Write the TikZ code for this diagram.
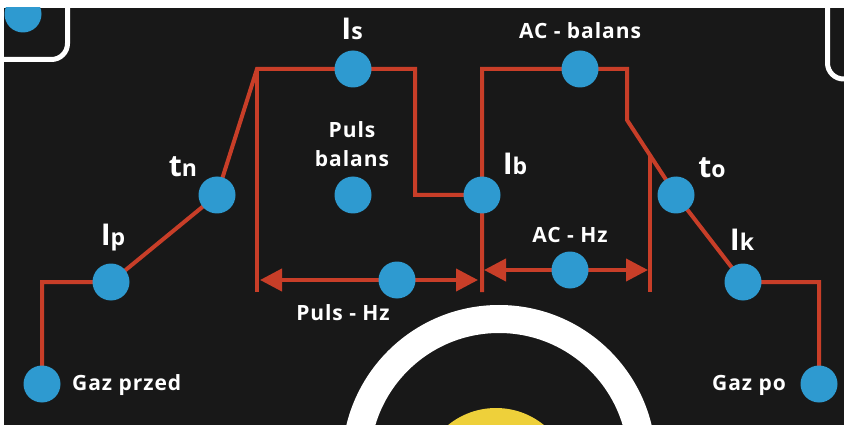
\documentclass[tikz,border=0pt]{standalone}
\usepackage{fontspec}
\setmainfont{Open Sans}[LetterSpace=4.5]
\usetikzlibrary{arrows.meta}
\definecolor{bgdark}{RGB}{24,24,24}
\definecolor{dotblue}{RGB}{46,154,208}
\definecolor{wirered}{RGB}{200,62,40}
\definecolor{sunyellow}{RGB}{238,208,58}
\pgfdeclarelayer{back}
\pgfdeclarelayer{mid}
\pgfsetlayers{back,mid,main}
\newcommand\capfirst[2]{{\fontsize{30}{32}\selectfont #1}{\fontsize{23}{25}\selectfont #2}}
\begin{document}
\begin{tikzpicture}[x=1pt,y=-1pt,
  dot/.style={circle, fill=dotblue, minimum size=37pt, inner sep=0pt},
  wire/.style={draw=wirered, line width=4pt},
  dblarrow/.style={wire, {Triangle[length=22pt,width=22pt]}-{Triangle[length=22pt,width=22pt]}},
  lbl/.style={text=white, font=\bfseries\fontsize{21}{29}\selectfont, inner sep=0pt},
  frame/.style={draw=white, line width=5pt, rounded corners=16pt}]
\useasboundingbox (0,0) rectangle (844,425);
\begin{pgfonlayer}{back}
\fill[white] (0,0) rectangle (844,425);
\fill[bgdark] (4,8) rectangle (844,425);
\begin{scope}
\clip (4,8) rectangle (844,425);
\draw[frame] (4,59.5) -- (67.5,59.5) -- (67.5,-20);
\draw[frame] (827.5,-20) -- (827.5,79) -- (870,79);
\draw[white, line width=28pt] (499,462) circle[radius=143pt];
\fill[sunyellow] (496,484) circle[radius=76pt];
\end{scope}
\end{pgfonlayer}
% dots
\begin{scope}
\clip (4,8) rectangle (844,425);
\node[dot] (tl) at (23,14) {};
\end{scope}
\node[dot] (gp) at (42,384) {};
\node[dot] (ip) at (111,282) {};
\node[dot] (tn) at (217,195) {};
\node[dot] (is) at (353,69) {};
\node[dot] (pb) at (353,195) {};
\node[dot] (ib) at (482,195) {};
\node[dot] (acb) at (580,69) {};
\node[dot] (to) at (676,195) {};
\node[dot] (ik) at (743,282) {};
\node[dot] (gpo) at (819,384) {};
\node[dot] (phz) at (397,280) {};
\node[dot] (achz) at (570,270) {};
% corner points
\coordinate (a1) at (42,282);
\coordinate (c1) at (257,69);
\coordinate (c2) at (415,69);
\coordinate (c3) at (415,195);
\coordinate (c4) at (482,69);
\coordinate (c5) at (627,69);
\coordinate (c6) at (627,120);
\coordinate (c7) at (819,282);
\coordinate (v1b) at (257,292);
\coordinate (v2b) at (482,292);
\coordinate (v3t) at (650,156);
\coordinate (v3b) at (650,292);
\coordinate (pl) at (260,280);
\coordinate (pr) at (478,280);
\coordinate (al) at (484,270);
\coordinate (ar) at (648,270);
\begin{pgfonlayer}{mid}
\draw[wire] (gp.center) -- (a1) -- (ip.center) -- (tn.center) -- (c1) -- (is.center) -- (c2) -- (c3) -- (ib.center);
\draw[wire] (v2b) -- (c4) -- (acb.center) -- (c5) -- (c6) -- (to.center) -- (ik.center) -- (c7) -- (gpo.center);
\draw[wire] (c1) -- (v1b);
\draw[wire] (v3t) -- (v3b);
\draw[dblarrow] (pl) -- (pr);
\draw[dblarrow] (al) -- (ar);
\end{pgfonlayer}
% labels
\node[lbl, anchor=base] (lis) at (352,39.5) {\capfirst{I}{s}};
\node[lbl, anchor=base] (lip) at (113,245) {\capfirst{I}{p}};
\node[lbl, anchor=base] (ltn) at (183,177) {\capfirst{t}{n}};
\node[lbl, anchor=base] (lib) at (515,175) {\capfirst{I}{b}};
\node[lbl, anchor=base] (lto) at (712,178) {\capfirst{t}{o}};
\node[lbl, anchor=base] (lik) at (742,250) {\capfirst{I}{k}};
\node[lbl, anchor=base] (lacb) at (580,39) {AC - balans};
\node[lbl, anchor=base] (lpb1) at (352,138) {Puls};
\node[lbl, anchor=base] (lpb2) at (352,167) {balans};
\node[lbl, anchor=base] (lachz) at (570,243) {AC - Hz};
\node[lbl, anchor=base] (lphz) at (343,320) {Puls - Hz};
\node[lbl, anchor=base west] (lgp) at (72,390) {Gaz przed};
\node[lbl, anchor=base east] (lgpo) at (786,390) {Gaz po};
\end{tikzpicture}
\end{document}
